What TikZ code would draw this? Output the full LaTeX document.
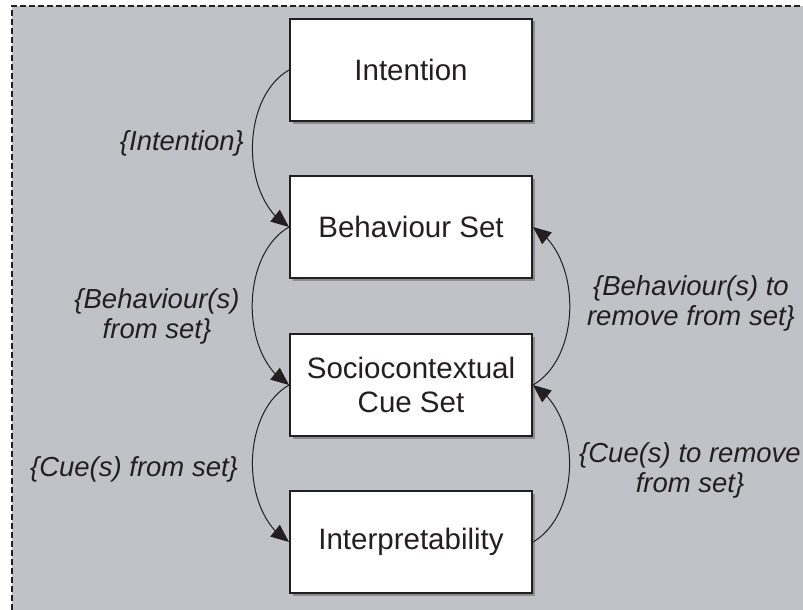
\documentclass[tikz,border=0pt]{standalone}
\usepackage{fontspec}
\setmainfont{Liberation Sans}
\usetikzlibrary{arrows.meta,bending,shadows}
\definecolor{panel}{RGB}{193,194,199}
\definecolor{ink}{RGB}{35,31,32}
\tikzset{
  stage/.style={draw=ink, line width=2pt, fill=white, minimum width=242pt,
    minimum height=102pt, inner sep=0pt, align=center, text=ink,
    font=\fontsize{29.5}{34}\selectfont,
    drop shadow={shadow xshift=2.5pt, shadow yshift=-2.5pt, fill=black!70, opacity=0.45}},
  flow/.style={draw=ink, line width=1pt,
    -{Triangle[length=18pt,width=15pt,flex]}},
  tag/.style={inner sep=0pt, align=center, text=ink,
    font=\fontsize{27.5}{30}\selectfont\itshape},
}
\begin{document}
\begin{tikzpicture}[x=1pt,y=1pt]
  \useasboundingbox (0,0) rectangle (803,-610);
  % grey panel with dashed frame along its top and left edges
  \fill[panel] (12,-6) rectangle (803,-610);
  \draw[ink, line width=1.5pt, dash pattern=on 6pt off 3pt]
    (12,-610) -- (12,-6) -- (803,-6);

  % stages
  \node[stage] (int) at (411,-70)  {Intention};
  \node[stage] (beh) at (411,-227) {Behaviour Set};
  \node[stage] (cue) at (411,-385) {Sociocontextual\\Cue Set};
  \node[stage] (itp) at (411,-542) {Interpretability};

  % downward flow on the left
  \draw[flow] (int.west) to[out=210,in=150,looseness=0.92] (beh.west);
  \draw[flow] (beh.west) to[out=210,in=150,looseness=0.92] (cue.west);
  \draw[flow] (cue.west) to[out=210,in=150,looseness=0.92] (itp.west);

  % upward flow on the right
  \draw[flow] (itp.east) to[out=30,in=-30,looseness=0.92] (cue.east);
  \draw[flow] (cue.east) to[out=30,in=-30,looseness=0.92] (beh.east);

  % flow labels
  \node[tag, anchor=east] (l1) at (244,-143) {\{Intention\}};
  \node[tag] (l2) at (157,-316) {\{Behaviour(s)\\from set\}};
  \node[tag] (l3) at (134,-469) {\{Cue(s) from set\}};
  \node[tag] (r1) at (691,-303) {\{Behaviour(s) to\\remove from set\}};
  \node[tag] (r2) at (690,-470) {\{Cue(s) to remove\\from set\}};
\end{tikzpicture}
\end{document}
